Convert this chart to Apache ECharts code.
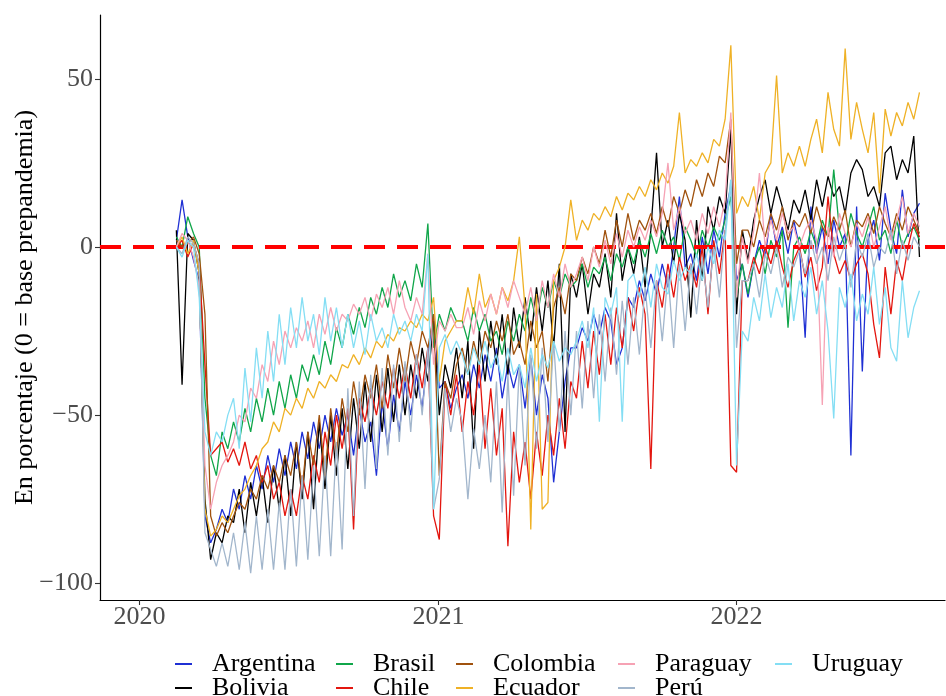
<!DOCTYPE html>
<html><head><meta charset="utf-8">
<script src="https://cdn.jsdelivr.net/npm/echarts@6/dist/echarts.min.js"></script>
<style>html,body{margin:0;padding:0;background:#fff}#c{width:946px;height:696px}</style>
</head><body><div id="c"></div>
<script>
// weekly samples starting 2020-02-15
const startYear = 2020, startMonth = 1, startDay = 15, stepDays = 7;
const countries = ['Argentina','Bolivia','Brasil','Chile','Colombia','Ecuador','Paraguay','Perú','Uruguay'];
const colors = ['#1f30d4','#000000','#10a64a','#e3160f','#a0520e','#efb125','#f6a2b4','#a2b6cc','#84def4'];
const yTicks = [-100, -50, 0, 50];
const xTickYears = [2020, 2021, 2022];

const argentina = [2,14,3,-4,-10,-80,-88,-84,-78,-82,
 -72,-78,-68,-75,-65,-72,-62,-70,-60,-68,
 -58,-66,-55,-63,-52,-60,-50,-58,-48,-56,
 -50,-62,-48,-58,-52,-68,-46,-60,-44,-55,
 -40,-50,-38,-48,-32,-20,-42,-40,-48,-42,
 -38,-45,-35,-42,-32,-40,-30,-45,-35,-42,
 -35,-48,-33,-50,-38,-45,-70,-55,-40,-30,
 -30,-24,-28,-20,-26,-18,-22,-35,-30,-15,
 -18,-10,-16,-8,-14,-5,-12,0,15,-6,
 -2,-10,3,-8,5,-3,10,18,-10,-5,
 -15,-5,2,-3,10,0,6,-2,8,0,
 -27,12,-2,6,-5,8,0,4,-62,12,
 -37,2,8,-4,16,5,-2,17,3,10,13];
const bolivia = [5,-41,4,2,-8,-75,-93,-85,-88,-80,
 -82,-72,-85,-70,-80,-68,-82,-65,-78,-62,
 -80,-58,-75,-55,-78,-52,-72,-50,-68,-48,
 -66,-45,-60,-40,-58,-38,-55,-36,-52,-35,
 -50,-35,-45,-30,-40,-22,-50,-35,-42,-30,
 -45,-28,-60,-25,-40,-22,-35,-20,-38,-18,
 -30,-15,-28,-12,-25,-10,-30,-5,-55,-8,
 -15,-5,-20,-8,-12,-2,-15,10,-10,0,
 -8,3,-12,5,28,0,8,-5,10,2,
 -21,8,-10,12,5,15,10,35,-20,5,
 -4,8,15,20,10,18,12,5,14,10,
 17,8,20,12,21,15,18,10,22,26,
 23,15,18,12,28,30,20,26,22,33,-3];
const brasil = [3,0,9,4,0,-45,-62,-68,-55,-60,
 -52,-58,-48,-55,-45,-52,-42,-50,-40,-48,
 -38,-45,-35,-40,-32,-38,-28,-35,-24,-30,
 -20,-26,-18,-24,-15,-20,-12,-18,-8,-15,
 -10,-16,-5,-12,7,-30,-20,-25,-18,-22,
 -22,-28,-18,-25,-20,-28,-25,-32,-22,-28,
 -20,-25,-15,-22,-12,-18,-10,-15,-8,-12,
 -10,-5,-12,-6,-8,-3,-10,-2,-6,0,
 -5,2,-3,4,-2,5,0,3,-4,6,
 2,-3,5,0,6,2,8,15,-15,-5,
 -14,-5,0,-8,2,-3,5,-24,0,3,
 -2,5,0,8,3,23,5,0,10,4,
 0,6,12,2,5,-2,8,0,4,6,2];
const chile = [0,2,-3,1,-5,-35,-62,-60,-58,-64,
 -60,-65,-58,-66,-62,-70,-65,-75,-70,-80,
 -72,-80,-68,-75,-62,-70,-55,-65,-50,-60,
 -48,-84,-45,-52,-42,-50,-40,-48,-36,-45,
 -35,-45,-32,-42,-30,-80,-87,-40,-50,-38,
 -55,-40,-50,-35,-60,-42,-62,-48,-89,-55,
 -70,-58,-75,-55,-68,-50,-62,-45,-60,-40,
 -45,-28,-42,-25,-38,-20,-35,-18,-30,-15,
 -25,-12,-20,-66,-10,-18,-5,-15,-3,-10,
 -5,-12,0,-20,2,-8,5,-65,-67,-10,
 -10,-3,-8,0,-5,2,-6,-12,-4,0,
 -9,-3,-13,-6,15,-2,-8,-4,-10,-5,
 -2,-8,-23,-33,-6,-20,-4,-10,0,7,3];
const colombia = [2,0,1,3,-2,-20,-80,-86,-82,-85,
 -80,-76,-78,-72,-75,-68,-72,-65,-70,-62,
 -68,-58,-72,-55,-65,-50,-68,-48,-62,-45,
 -55,-40,-50,-38,-45,-35,-48,-32,-42,-30,
 -40,-28,-35,-25,-30,-20,-68,-40,-45,-35,
 -30,-38,-28,-35,-25,-30,-22,-28,-20,-32,
 -28,-35,-22,-30,-25,-40,-18,-12,-20,-8,
 -10,-3,-8,0,-5,5,-3,8,0,10,
 2,8,5,10,4,12,6,15,10,17,
 12,20,15,22,18,27,25,38,-5,5,
 5,0,8,3,10,5,12,2,8,6,
 10,4,12,6,3,9,5,11,0,8,
 6,10,4,12,7,3,10,5,12,8,4];
const ecuador = [0,3,-2,2,-8,-78,-86,-84,-80,-82,
 -78,-74,-72,-68,-65,-60,-58,-52,-55,-48,
 -50,-45,-48,-42,-45,-40,-42,-38,-40,-35,
 -36,-32,-35,-30,-33,-28,-30,-26,-28,-24,
 -25,-22,-24,-20,-22,-15,-40,-28,-25,-22,
 -22,-12,-20,-8,-18,-14,-20,-12,-16,-10,
 3,-18,-84,-14,-78,-76,-10,-6,0,14,
 2,8,5,10,8,12,9,15,11,16,
 14,18,15,20,17,22,19,24,40,22,
 26,24,28,25,32,30,38,60,10,15,
 12,18,8,22,25,51,22,28,24,30,
 24,32,38,28,46,35,30,59,32,43,
 35,28,40,16,41,33,40,36,43,38,46];
const paraguay = [0,4,2,-3,-12,-65,-78,-70,-65,-62,
 -58,-50,-52,-42,-45,-35,-40,-28,-35,-25,
 -30,-24,-28,-22,-30,-20,-26,-18,-25,-20,
 -22,-17,-20,-15,-22,-14,-18,-12,-20,-10,
 -18,-22,-15,-20,-2,-35,-22,-25,-20,-24,
 -24,-18,-26,-16,-22,-14,-20,-12,-18,-10,
 -15,-20,-12,-22,-10,-18,-8,-15,-5,-12,
 -8,-3,-10,0,-6,2,-5,4,-3,5,
 0,6,2,8,3,10,25,5,12,4,
 8,2,10,4,12,6,14,40,-15,3,
 -5,5,22,0,8,2,10,4,6,0,
 5,8,2,-47,6,-3,10,4,0,7,
 3,9,0,6,12,2,8,15,4,10,6];
const peru = [0,-2,3,1,-5,-85,-90,-95,-88,-95,
 -85,-96,-82,-97,-80,-96,-78,-96,-76,-96,
 -72,-95,-68,-93,-65,-92,-62,-92,-58,-90,
 -42,-80,-40,-72,-38,-66,-36,-62,-35,-58,
 -34,-55,-32,-50,-30,-78,-69,-42,-55,-45,
 -52,-75,-54,-66,-50,-70,-40,-79,-38,-74,
 -35,-65,-32,-60,-30,-58,-28,-55,-25,-50,
 -25,-48,-22,-45,-20,-40,-18,-38,-16,-35,
 -15,-32,-12,-30,-10,-28,-8,-30,-5,-25,
 -5,-20,-3,-18,0,-15,5,20,-30,-10,
 -10,-5,-15,-2,-8,0,-12,-3,-6,-1,
 -8,2,-5,0,-10,3,-4,1,-12,2,
 -3,4,-6,0,-2,5,-8,2,-4,3,0];
const uruguay = [0,-3,2,0,-15,-55,-62,-55,-58,-50,
 -45,-60,-36,-52,-30,-45,-25,-40,-20,-35,
 -18,-30,-15,-28,-20,-32,-15,-28,-18,-30,
 -20,-30,-22,-32,-20,-28,-24,-30,-20,-26,
 -22,-28,-20,-25,-2,-78,-30,-26,-32,-28,
 -32,-38,-30,-35,-28,-36,-32,-40,-30,-38,
 -35,-42,-30,-40,-32,-36,-28,-34,-30,-32,
 -28,-22,-30,-18,-52,-15,-20,-12,-52,-10,
 -8,-15,-6,-18,-5,-12,-14,-4,-10,-6,
 -8,-2,-10,0,-5,5,2,20,-65,-25,
 -28,-15,-22,-8,-21,-12,-18,-5,-22,-10,
 -15,-6,-20,-10,-25,-51,-12,-18,-8,-22,
 -14,-20,-6,-23,-12,-30,-34,-10,-27,-18,-13];

const seriesValues = [argentina, bolivia, brasil, chile, colombia, ecuador, paraguay, peru, uruguay];
const DAY = 86400000;
const t0 = Date.UTC(startYear, startMonth, startDay);
const FONT = 'Liberation Serif';
const xTickVals = xTickYears.map(y => Date.UTC(y, 0, 1));

const series = countries.map((name, k) => ({
  name, type: 'line', showSymbol: false, symbol: 'none',
  data: seriesValues[k].map((v, i) => [t0 + i * stepDays * DAY, v]),
  lineStyle: { width: 1.3, color: colors[k] }, itemStyle: { color: colors[k] },
  emphasis: { disabled: true }, z: 2 + k
}));
series.push({
  name: 'ref', type: 'line', data: [], silent: true, z: 20,
  markLine: { silent: true, symbol: ['none','none'], label: { show: false },
    lineStyle: { color: '#ff0000', width: 4, type: [21, 12] },
    data: [{ yAxis: 0 }] }
});

const legendTextX = [212, 373, 493, 655, 812, 212, 373, 493, 655];
const legendRow = [0, 0, 0, 0, 0, 1, 1, 1, 1];
const legendOrder = ['Argentina','Brasil','Colombia','Paraguay','Uruguay','Bolivia','Chile','Ecuador','Perú'];
const legends = legendOrder.map((name, j) => ({
  data: [name], left: legendTextX[j] - 37, top: 651 + legendRow[j] * 24,
  padding: 0, icon: 'rect', itemWidth: 17, itemHeight: 2, selectedMode: false,
  textStyle: { fontFamily: FONT, fontSize: 26, color: '#000', lineHeight: 26, padding: [0, 0, 0, 15] }
}));

const chart = echarts.init(document.getElementById('c'), null, { renderer: 'canvas' });
chart.setOption({
  animation: false,
  backgroundColor: '#fff',
  grid: { left: 100, right: 1, top: 15, bottom: 96, containLabel: false, outerBoundsMode: 'none' },
  legend: legends,
  xAxis: {
    type: 'value',
    min: Date.UTC(2019, 10, 13, 12), max: Date.UTC(2022, 8, 13, 6),
    axisLine: { show: true, onZero: false, lineStyle: { color: '#000', width: 1.2 } },
    axisTick: { show: true, length: 5, lineStyle: { color: '#333', width: 1.1 }, customValues: xTickVals },
    axisLabel: { fontFamily: FONT, fontSize: 26, color: '#4d4d4d', margin: 4, customValues: xTickVals,
      formatter: v => String(new Date(v + DAY).getUTCFullYear()) },
    splitLine: { show: false }
  },
  yAxis: {
    type: 'value', min: -105, max: 69,
    name: 'En porcentaje (0 = base prepandemia)', nameLocation: 'middle', nameGap: 62,
    nameMoveOverlap: false,
    nameTextStyle: { fontFamily: FONT, fontSize: 26, color: '#000' },
    axisLine: { show: true, onZero: false, lineStyle: { color: '#000', width: 1.2 } },
    axisTick: { show: true, length: 5, lineStyle: { color: '#333', width: 1.1 }, customValues: yTicks },
    axisLabel: { fontFamily: FONT, fontSize: 26, color: '#4d4d4d', margin: 7, customValues: yTicks,
      formatter: v => v < 0 ? '\u2212' + Math.abs(v) : String(v) },
    splitLine: { show: false }
  },
  series
});
</script></body></html>
